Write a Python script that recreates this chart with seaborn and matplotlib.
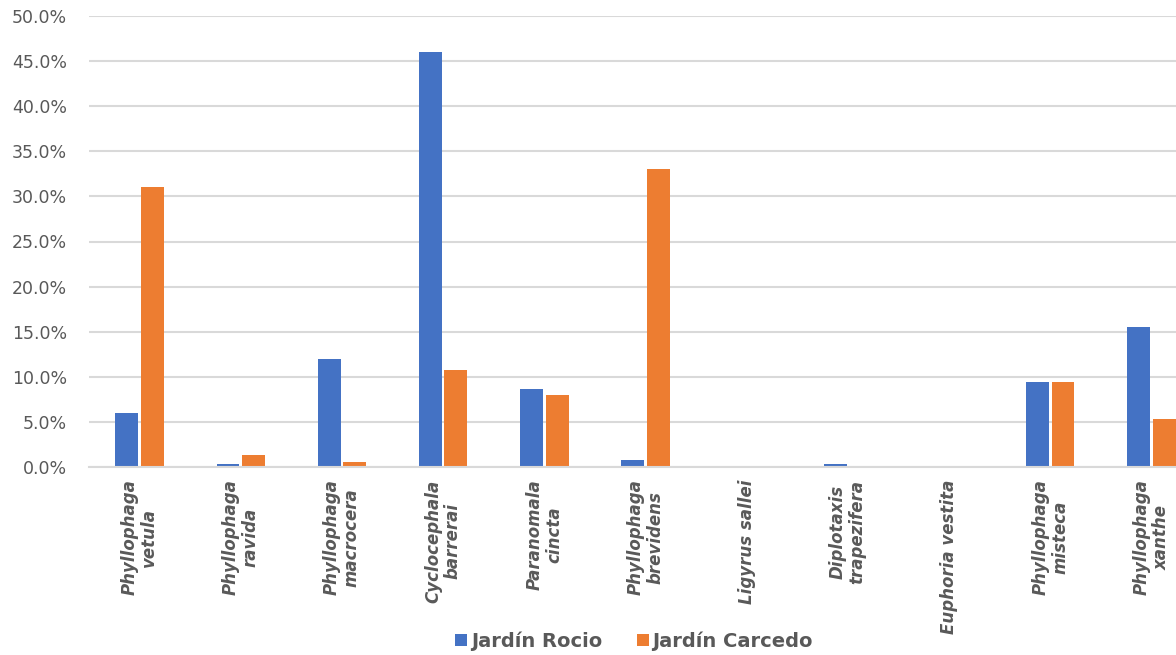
import matplotlib
matplotlib.use("Agg")
import matplotlib.pyplot as plt
from matplotlib.ticker import PercentFormatter, MultipleLocator
import pandas as pd
import seaborn as sns

# Relative abundance (%) of each species per garden
species = [
    "Phyllophaga\nvetula",
    "Phyllophaga\nravida",
    "Phyllophaga\nmacrocera",
    "Cyclocephala\nbarrerai",
    "Paranomala\ncincta",
    "Phyllophaga\nbrevidens",
    "Ligyrus sallei",
    "Diplotaxis\ntrapezifera",
    "Euphoria vestita",
    "Phyllophaga\nmisteca",
    "Phyllophaga\nxanthe",
]
rocio = [6.0, 0.35, 12.0, 46.0, 8.7, 0.8, 0.0, 0.35, 0.0, 9.4, 15.5]
carcedo = [31.0, 1.35, 0.6, 10.7, 8.0, 33.0, 0.0, 0.0, 0.0, 9.4, 5.3]
series = ["Jardín Rocio", "Jardín Carcedo"]
colors = ["#4472C4", "#ED7D31"]

df = pd.DataFrame({
    "species": species * 2,
    "garden": [series[0]] * len(species) + [series[1]] * len(species),
    "pct": rocio + carcedo,
})

sns.set_style("white")
plt.rcParams["font.family"] = ["DejaVu Sans"]
text_gray = "#595959"

fig = plt.figure(figsize=(11.76, 6.55), dpi=100)
ax = fig.add_axes([89 / 1176, 188 / 655, 1113 / 1176, 451 / 655])

sns.barplot(
    data=df, x="species", y="pct", hue="garden",
    palette=colors, hue_order=series, order=species,
    width=0.505, gap=0.1, linewidth=0, saturation=1,
    ax=ax,
)

ax.set_ylim(0, 50)
ax.set_xlim(-0.5, len(species) - 0.5)
ax.yaxis.set_major_locator(MultipleLocator(5))
ax.yaxis.set_major_formatter(PercentFormatter(100, decimals=1))
ax.grid(axis="y", color="#d9d9d9", linewidth=1.5)
ax.set_axisbelow(True)
for side in ("top", "right", "left"):
    ax.spines[side].set_visible(False)
ax.spines["bottom"].set_color("#d9d9d9")
ax.spines["bottom"].set_linewidth(1.5)

ax.set_xlabel("")
ax.set_ylabel("")
ax.tick_params(axis="y", length=0, pad=16, labelsize=12.5, labelcolor=text_gray)
ax.tick_params(axis="x", length=0, pad=9)
for lbl in ax.get_xticklabels():
    lbl.set_rotation(90)
    lbl.set_ha("center")
    lbl.set_va("top")
    lbl.set_multialignment("center")
    lbl.set_fontstyle("italic")
    lbl.set_fontweight("bold")
    lbl.set_fontsize(12)
    lbl.set_color(text_gray)
    lbl.set_linespacing(1.12)

handles, labels = ax.get_legend_handles_labels()
ax.legend(
    handles, labels,
    loc="center", bbox_to_anchor=(634 / 1176, 1 - 641 / 655),
    bbox_transform=fig.transFigure, ncol=2, frameon=False,
    handlelength=0.6, handleheight=0.6, handletextpad=0.2,
    columnspacing=1.8,
    prop={"weight": "bold", "size": 14},
    labelcolor=text_gray,
)

fig.savefig("out.png", dpi=100)
